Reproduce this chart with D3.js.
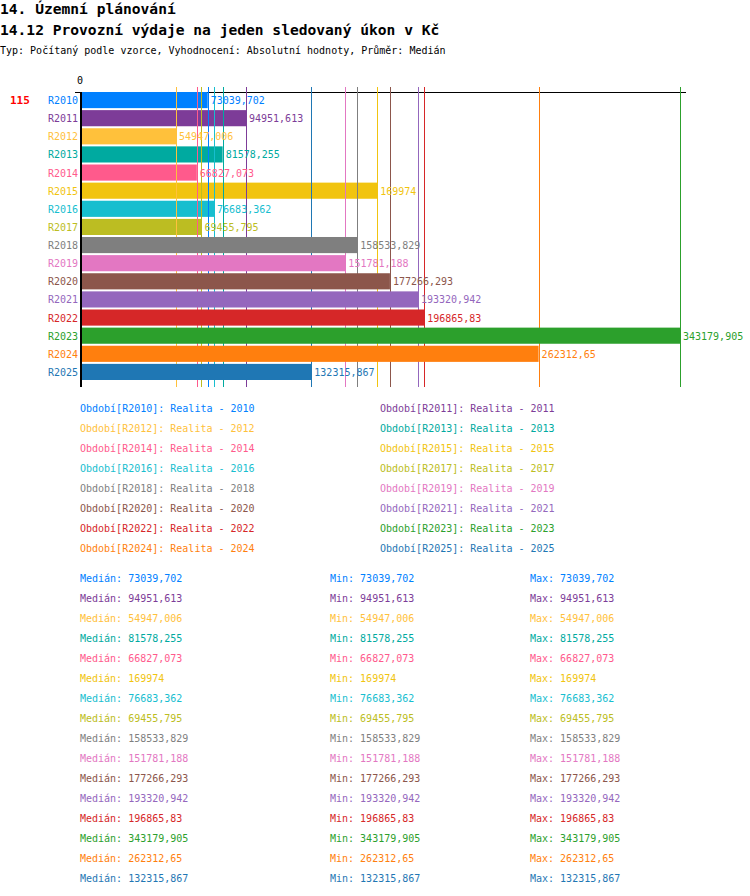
<!DOCTYPE html>
<html>
<head>
<meta charset="utf-8">
<script src="https://cdn.jsdelivr.net/npm/d3@7"></script>
<style>
  body { margin: 0; background: #fff; }
  text { font-family: "DejaVu Sans Mono", monospace; }
</style>
</head>
<body>
<script>
// chart data
const categories = ["R2010", "R2011", "R2012", "R2013", "R2014", "R2015", "R2016", "R2017",
  "R2018", "R2019", "R2020", "R2021", "R2022", "R2023", "R2024", "R2025"];
const medians = [73039.702, 94951.613, 54947.006, 81578.255, 66827.073, 169974, 76683.362, 69455.795,
  158533.829, 151781.188, 177266.293, 193320.942, 196865.83, 343179.905, 262312.65, 132315.867];
const mins = medians.slice();
const maxs = medians.slice();
const legendLabels = categories.map(c => "Období[" + c + "]: Realita - " + c.slice(1));
const colors = ["#0080ff", "#7d3c98", "#ffc13b", "#00aaa0", "#ff5a8c", "#f1c40f", "#17becf", "#bcbd22",
  "#7f7f7f", "#e377c2", "#8c564b", "#9467bd", "#d62728", "#2ca02c", "#ff7f0e", "#1f77b4"];
const rowLabel = "115";

const fmt = v => String(v).replace(".", ",");

const svg = d3.select("body").append("svg")
  .attr("width", 750)
  .attr("height", 896);

// titles
svg.append("text").attr("x", 0).attr("y", 14)
  .attr("font-size", "14.6px").attr("font-weight", "bold")
  .text("14. Územní plánování");
svg.append("text").attr("x", 0).attr("y", 35)
  .attr("font-size", "14.6px").attr("font-weight", "bold")
  .text("14.12 Provozní výdaje na jeden sledovaný úkon v Kč");
svg.append("text").attr("x", 0).attr("y", 54)
  .attr("font-size", "10px")
  .text("Typ: Počítaný podle vzorce, Vyhodnocení: Absolutní hodnoty, Průměr: Medián");

// scales
const x = d3.scaleLinear().domain([0, d3.max(medians)]).range([80, 680]);
const y = d3.scaleBand().domain(categories).range([92, 380]).paddingInner(0.11).paddingOuter(0);

const g = svg.append("g");

// x axis line and zero tick
g.append("line").attr("x1", 75).attr("x2", 686).attr("y1", 92.5).attr("y2", 92.5)
  .attr("stroke", "#000").attr("stroke-width", 1);
g.append("text").attr("x", x(0)).attr("y", 84).attr("text-anchor", "middle")
  .attr("font-size", "10px").text("0");

const rows = categories.map((c, i) => ({ cat: c, value: medians[i], color: colors[i] }));

function drawBars(data) {
  g.selectAll(null).data(data).enter().append("rect")
    .attr("x", x(0))
    .attr("y", d => y(d.cat))
    .attr("width", d => x(d.value) - x(0))
    .attr("height", y.bandwidth())
    .attr("fill", d => d.color);
}

// first bars, then median lines, then the rest (as in the original)
drawBars(rows.slice(0, 8));

g.selectAll(".mline").data(rows).enter().append("line")
  .attr("class", "mline")
  .attr("x1", d => Math.round(x(d.value)) + 0.5)
  .attr("x2", d => Math.round(x(d.value)) + 0.5)
  .attr("y1", 87).attr("y2", 387)
  .attr("stroke", d => d.color).attr("stroke-width", 1);

drawBars(rows.slice(8));

// y axis
g.append("line").attr("x1", 81).attr("x2", 81).attr("y1", 92).attr("y2", 387)
  .attr("stroke", "#000").attr("stroke-width", 2);

// category labels
g.selectAll(".cat").data(rows).enter().append("text")
  .attr("x", 78)
  .attr("y", d => y(d.cat) + y.bandwidth() / 2 + 4)
  .attr("text-anchor", "end")
  .attr("font-size", "10px")
  .attr("fill", d => d.color)
  .text(d => d.cat);

g.append("text").attr("x", 10).attr("y", y(categories[0]) + y.bandwidth() / 2 + 4)
  .attr("font-size", "11px").attr("font-weight", "bold").attr("fill", "#ff0000")
  .text(rowLabel);

// value labels
g.selectAll(".val").data(rows).enter().append("text")
  .attr("x", d => x(d.value) + 3)
  .attr("y", d => y(d.cat) + y.bandwidth() / 2 + 4)
  .attr("font-size", "10px")
  .attr("fill", d => d.color)
  .text(d => fmt(d.value));

// legend
const legend = svg.append("g");
legend.selectAll("text").data(legendLabels).enter().append("text")
  .attr("x", (d, i) => i % 2 === 0 ? 80 : 380)
  .attr("y", (d, i) => 412 + Math.floor(i / 2) * 20)
  .attr("font-size", "10px")
  .attr("fill", (d, i) => colors[i])
  .text(d => d);

// stats
const stats = svg.append("g");
categories.forEach((c, i) => {
  const yy = 582 + i * 20;
  stats.append("text").attr("x", 80).attr("y", yy).attr("font-size", "10px")
    .attr("fill", colors[i]).text("Medián: " + fmt(medians[i]));
  stats.append("text").attr("x", 330).attr("y", yy).attr("font-size", "10px")
    .attr("fill", colors[i]).text("Min: " + fmt(mins[i]));
  stats.append("text").attr("x", 530).attr("y", yy).attr("font-size", "10px")
    .attr("fill", colors[i]).text("Max: " + fmt(maxs[i]));
});
</script>
</body>
</html>
